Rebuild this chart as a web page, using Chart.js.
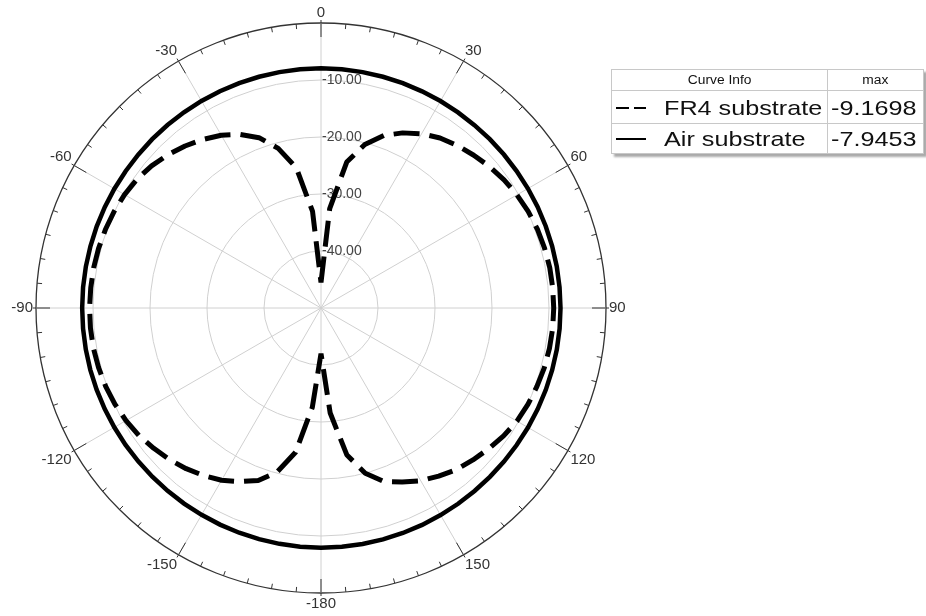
<!DOCTYPE html>
<html>
<head>
<meta charset="utf-8">
<script src="https://cdn.jsdelivr.net/npm/chart.js@4.4.1/dist/chart.umd.min.js"></script>
<style>
  body { margin: 0; background: #fff; width: 926px; height: 616px; overflow: hidden; position: relative;
         font-family: Arial, "Liberation Sans", sans-serif; }
  #wrap { position: absolute; left: -9px; top: 0; width: 660px; height: 616px; }
  #legend { position: absolute; left: 611px; top: 69px; border-collapse: collapse; table-layout: fixed;
            border: 1.5px solid #555; box-shadow: 3px 3px 2px #aaa; background: #fff; }
  #legend td { border: 1px solid #c8c8c8; padding: 0; color: #111; white-space: nowrap; overflow: visible; }
  #legend .hd td { height: 20px; font-size: 12px; text-align: center; }
  #legend .hd span { display: inline-block; transform: scaleX(1.15); }
  #legend .row td { font-size: 21px; }
  #legend .row svg { vertical-align: middle; margin: 0 18px 0 4px; }
  #legend .s { display: inline-block; transform: scaleX(1.2); transform-origin: 0 50%; vertical-align: middle; }
  #legend .v { padding-left: 3px; }
</style>
</head>
<body>
<div id="wrap"><canvas id="polar"></canvas></div>
<table id="legend">
  <colgroup><col style="width:216px"><col style="width:96px"></colgroup>
  <tr class="hd"><td><span>Curve Info</span></td><td><span>max</span></td></tr>
  <tr class="row" style="height:33px">
    <td><svg width="30" height="6"><line x1="0" y1="3" x2="30" y2="3" stroke="#000" stroke-width="2" stroke-dasharray="13,5"/></svg><span class="s" id="n0"></span></td>
    <td class="v"><span class="s" id="m0"></span></td>
  </tr>
  <tr class="row" style="height:30px">
    <td><svg width="30" height="6"><line x1="0" y1="3" x2="30" y2="3" stroke="#000" stroke-width="2"/></svg><span class="s" id="n1"></span></td>
    <td class="v"><span class="s" id="m1"></span></td>
  </tr>
</table>
<script>
// angles, clockwise from the top
const angles = [0, 5, 10, 15, 20, 25, 30, 35, 40, 45, 50, 55, 60, 65, 70, 75, 80, 85,
  90, 95, 100, 105, 110, 115, 120, 125, 130, 135, 140, 145, 150, 155, 160, 165, 170, 175,
  -180, -175, -170, -165, -160, -155, -150, -145, -140, -135, -130, -125, -120, -115, -110, -105, -100, -95,
  -90, -85, -80, -75, -70, -65, -60, -55, -50, -45, -40, -35, -30, -25, -20, -15, -10, -5];

const fr4 = [-45.5, -32.5, -24, -20.3, -17.8, -16.1, -14.7, -13.6, -12.8, -12.1, -11.4, -10.8, -10.3, -9.9, -9.6, -9.4, -9.25, -9.2,
  -9.17, -9.2, -9.3, -9.45, -9.7, -9.95, -10.3, -10.9, -11.6, -12.3, -13.0, -14.0, -15.0, -16.3, -17.6, -20.0, -23.8, -31.5,
  -42, -32.5, -24.3, -20.2, -17.8, -16.4, -15.1, -14.1, -13.2, -12.4, -11.7, -11.0, -10.5, -10.1, -9.8, -9.6, -9.45, -9.4,
  -9.4, -9.45, -9.5, -9.6, -9.75, -9.95, -10.2, -10.6, -11.2, -12.0, -12.9, -13.9, -15.0, -16.4, -18.2, -21, -25, -33];

const air = [-7.95, -7.96, -7.98, -8.0, -8.03, -8.06, -8.08, -8.1, -8.12, -8.12, -8.11, -8.1, -8.08, -8.06, -8.04, -8.02, -8.0, -7.99,
  -7.98, -7.98, -7.99, -8.01, -8.03, -8.05, -8.07, -8.09, -8.1, -8.1, -8.09, -8.07, -8.05, -8.02, -8.0, -7.98, -7.97, -7.96,
  -7.96, -7.97, -7.99, -8.01, -8.04, -8.07, -8.1, -8.12, -8.14, -8.15, -8.15, -8.14, -8.13, -8.12, -8.11, -8.1, -8.1, -8.1,
  -8.1, -8.1, -8.11, -8.12, -8.13, -8.14, -8.15, -8.15, -8.14, -8.12, -8.1, -8.08, -8.06, -8.04, -8.02, -8.0, -7.98, -7.96];

const seriesNames = ['FR4 substrate', 'Air substrate'];
const seriesMax = ['-9.1698', '-7.9453'];
const ringValues = [-10, -20, -30, -40];
const ringLabels = ['-10.00', '-20.00', '-30.00', '-40.00'];

seriesNames.forEach((n, i) => {
  document.getElementById('n' + i).textContent = n;
  document.getElementById('m' + i).textContent = seriesMax[i];
});

const font = 'Arial, "Liberation Sans", sans-serif';

// outer ring ticks and ring value labels
const polarDecor = {
  id: 'polarDecor',
  beforeDatasetsDraw(chart) {
    const r = chart.scales.r;
    const ctx = chart.ctx;
    ctx.save();
    ctx.strokeStyle = '#333';
    ctx.lineWidth = 1;
    for (let i = 0; i < angles.length; i++) {
      const a = r.getIndexAngle(i) - Math.PI / 2;
      const major = i % 6 === 0;
      const r0 = r.drawingArea - (major ? 14 : 5);
      const r1 = r.drawingArea + (major ? 3 : 0);
      ctx.beginPath();
      ctx.moveTo(r.xCenter + Math.cos(a) * r0, r.yCenter + Math.sin(a) * r0);
      ctx.lineTo(r.xCenter + Math.cos(a) * r1, r.yCenter + Math.sin(a) * r1);
      ctx.stroke();
    }
    ctx.font = '14px ' + font;
    ctx.fillStyle = '#444';
    ctx.textAlign = 'left';
    ctx.textBaseline = 'middle';
    ringValues.forEach((v, k) => {
      const d = r.getDistanceFromCenterForValue(v);
      ctx.fillText(ringLabels[k], r.xCenter + 1, r.yCenter - d);
    });
    ctx.restore();
  }
};

new Chart(document.getElementById('polar'), {
  type: 'radar',
  data: {
    labels: angles.map(String),
    datasets: [
      { label: seriesNames[0], data: fr4, borderColor: '#000', borderWidth: 5, borderDash: [26, 10],
        borderJoinStyle: 'bevel', fill: false, pointRadius: 0 },
      { label: seriesNames[1], data: air, borderColor: '#000', borderWidth: 4.5, fill: false, pointRadius: 0 }
    ]
  },
  options: {
    responsive: true,
    maintainAspectRatio: false,
    animation: false,
    layout: { padding: { top: 5, bottom: 5 } },
    plugins: { legend: { display: false }, tooltip: { enabled: false } },
    scales: {
      r: {
        min: -50,
        max: 0,
        ticks: { stepSize: 10, display: false },
        grid: {
          circular: true,
          color: c => c.tick.value === 0 ? '#333' : '#d0d0d0',
          lineWidth: c => c.tick.value === 0 ? 1.3 : 1
        },
        angleLines: {
          color: c => c.index % 6 === 0 ? '#d0d0d0' : 'rgba(0,0,0,0)',
          lineWidth: c => c.index % 6 === 0 ? 1 : 0
        },
        pointLabels: {
          callback: (label, i) => i % 6 === 0 ? label : '',
          font: { family: font, size: 15, lineHeight: 1 },
          color: '#333',
          padding: 3
        }
      }
    }
  },
  plugins: [polarDecor]
});
</script>
</body>
</html>
